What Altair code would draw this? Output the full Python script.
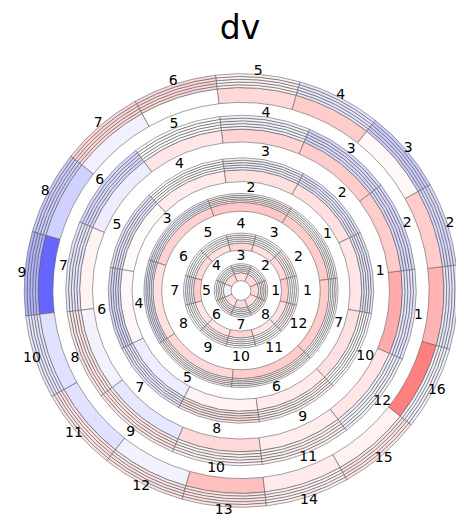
import math
import altair as alt
import pandas as pd

title_text = "dv"

# segments per ring (inner -> outer) and angle (deg, ccw from east) of segment 1 centre
segments = [8, 12, 7, 10, 12, 16]
first_center_deg = [0, 0, 33, 8, -8, -4.5]

# values of the wide band of each ring, segment 1..n
g1_thick = [0.15, 0.15, 0.12, 0.15, -0.05, 0.12, 0.15, 0.12]
g2_thick = [0.2, 0.15, 0.12, 0.17, 0.12, 0.15, 0.2, 0.1, 0.1, 0.17, 0.1, 0.12]
g3_thick = [0.2, 0.22, 0.18, 0.12, 0.15, 0.2, 0.2]
g4_thick = [0.1, 0.12, 0.12, 0.08, 0.02, 0.03, -0.07, 0.05, 0.08, 0.12]
g5_thick = [0.33, 0.2, 0.2, 0.17, 0.1, -0.07, 0.05, -0.05, -0.1, 0.15, 0.07, 0.1]
g6_thick = [0.3, 0.2, 0.03, 0.2, 0.15, 0.0, -0.06, -0.18, -0.6, -0.12, -0.12, -0.05, 0.25, 0.08, 0.05, 0.5]

# values of the thin outer bands of each ring
g1_thin = [0.05, 0.0, 0.05, 0.0, 0.0, 0.05, 0.0, 0.05]
g2_thin = [0.0, 0.05, 0.0, 0.05, 0.0, 0.0, -0.05, 0.0, 0.05, 0.0, 0.0, 0.05]
g3_thin = [0.0, 0.05, -0.05, -0.1, 0.05, 0.05, 0.0]
g4_thin = [-0.1, -0.1, -0.05, 0.0, -0.1, -0.15, -0.1, 0.1, 0.05, 0.0]
g5_thin = [-0.1, -0.15, -0.15, -0.05, 0.0, -0.15, -0.1, 0.1, 0.1, 0.05, 0.05, -0.05]
g6_thin = [-0.1, -0.15, -0.2, -0.1, 0.05, 0.15, 0.15, -0.2, -0.3, -0.1, 0.1, 0.1, 0.1, 0.05, 0.1, -0.05]

thick_vals = [g1_thick, g2_thick, g3_thick, g4_thick, g5_thick, g6_thick]
thin_vals = [g1_thin, g2_thin, g3_thin, g4_thin, g5_thin, g6_thin]

# segment labels that fall outside the figure frame in the reference (ring, segment)
hidden_labels = [(6, 1)]

# ring layout (radial units)
ring_inner = [10, 41, 80, 110, 150, 190]
ring_mid = [18, 48, 89, 122, 163, 205]
ring_outer = [27, 58, 98, 134, 177, 219]
label_r = [35, 67, 104, 142, 181, 222]
N_THIN = 5
CX, CY = 233, 282.5
RSCALE = 0.99

cells = []
labels = []
for g, n in enumerate(segments):
    span = 360.0 / n
    for k in range(n):
        a = first_center_deg[g] + span * k
        t1 = 90 - a - span / 2
        t2 = t1 + span
        cells.append(dict(t1=t1, t2=t2, r1=ring_inner[g], r2=ring_mid[g], v=thick_vals[g][k]))
        w = (ring_outer[g] - ring_mid[g]) / N_THIN
        for j in range(N_THIN):
            cells.append(dict(t1=t1, t2=t2, r1=ring_mid[g] + j * w,
                              r2=ring_mid[g] + (j + 1) * w, v=thin_vals[g][k]))
        if (g + 1, k + 1) not in hidden_labels:
            labels.append(dict(t=(90 - a) % 360, r=label_r[g], txt=str(k + 1)))

cells_df = pd.DataFrame(cells)
labels_df = pd.DataFrame(labels)

theta_scale = alt.Scale(domain=[0, 360], range=[0, 2 * math.pi])
r_scale = alt.Scale(type="linear", domain=[0, 230], range=[0, 230 * RSCALE])
color_scale = alt.Scale(domain=[-1, 0, 1], range=["#0000ff", "#ffffff", "#ff0000"], interpolate="rgb")

arcs = alt.Chart(cells_df).mark_arc(stroke="#555555", strokeWidth=0.55).encode(
    theta=alt.Theta("t1:Q", scale=theta_scale, stack=False),
    theta2="t2:Q",
    radius=alt.Radius("r1:Q", scale=r_scale),
    radius2="r2:Q",
    color=alt.Color("v:Q", scale=color_scale, legend=None),
    x=alt.value(CX),
    y=alt.value(CY),
)

text = alt.Chart(labels_df).mark_text(
    fontSize=14, font="DejaVu Sans", color="black", align="center", baseline="middle"
).encode(
    theta=alt.Theta("t:Q", scale=theta_scale, stack=False),
    radius=alt.Radius("r:Q", scale=r_scale),
    text="txt:N",
    x=alt.value(CX),
    y=alt.value(CY),
)

title = alt.Chart(pd.DataFrame({"title": [title_text]})).mark_text(
    fontSize=33, font="DejaVu Sans", color="black", align="center", baseline="alphabetic"
).encode(text="title:N", x=alt.value(232), y=alt.value(31))

chart = alt.layer(arcs, text, title).properties(
    width=448, height=509, autosize="none", padding=0
).configure_view(stroke=None)

chart.save("out.html", embed_options={"renderer": "svg", "actions": False})
